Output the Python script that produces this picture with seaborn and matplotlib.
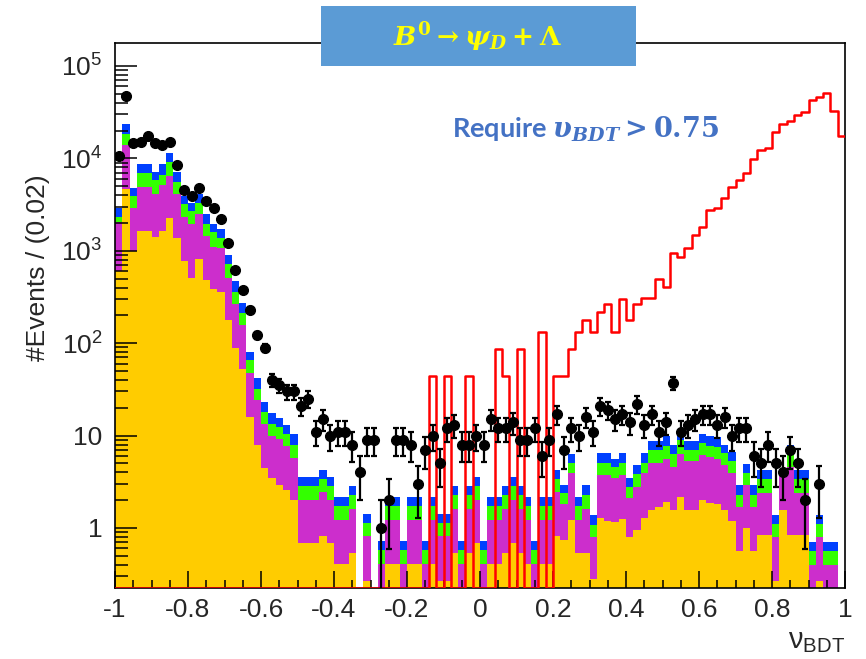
import numpy as np
import pandas as pd
import matplotlib
matplotlib.use("Agg")
import matplotlib.pyplot as plt
from matplotlib.patches import Rectangle
from matplotlib.ticker import MultipleLocator, FuncFormatter, NullFormatter, FixedLocator
import seaborn as sns

# 100 bins of 0.02 in nu_BDT
edges = np.linspace(-1.0, 1.0, 101)

# background components (events per bin), bottom of stack first
yellow = [600, 4700, 1000, 1650, 1650, 1420, 1650, 2240, 1380, 780,
          510, 820, 485, 390, 357, 178, 88, 52, 16, 8,
          4.5, 3.5, 2.9, 2.6, 2.0, .68, .68, .68, .81, .68,
          .41, .41, .54, 0, .27, 0, .14, .41, .41, .14,
          .41, .41, .14, .41, .27, .27, .54, .14, .54, .68,
          .14, .41, .41, .54, .68, .54, .41, .14, .41, .41,
          .81, .75, 1.22, .53, .53, .28, 1.27, 1.2, 1.15, 1.25,
          .8, .95, 1.27, 1.55, 1.7, 1.9, 1.55, 2.15, 1.55, 1.55,
          2.0, 1.85, 1.8, 1.55, 1.2, .57, 1.0, .57, .84, .84,
          .27, 1.55, .84, .84, .84, 0, .27, 0, 0, 0]
magenta = [1450, 9300, 1910, 3260, 3260, 2700, 3480, 4260, 2740, 1560,
           1440, 1690, 965, 720, 703, 332, 175, 104, 32, 16,
           9, 6.5, 6.2, 5.1, 3.7, 1.35, 1.35, 1.35, 1.62, 1.35,
           .81, .81, 1.08, 0, .54, 0, .27, .81, .81, .27,
           .81, .81, .27, .81, .54, .54, 1.08, .27, 1.08, 1.35,
           .27, .81, .81, 1.08, 1.35, 1.08, .81, .27, .81, .81,
           1.62, 1.05, 2.68, .7, 1.07, .52, 2.43, 2.5, 2.35, 2.45,
           1.3, 1.85, 2.63, 3.45, 3.3, 3.7, 3.05, 4.15, 3.75, 3.75,
           4.1, 3.95, 3.8, 3.25, 2.7, 1.13, 1.9, 1.13, 1.56, 1.56,
           .52, 2.65, 3.76, 1.56, 1.56, .40, .52, .40, .40, 0]
green = [290, 4500, 1040, 2060, 2060, 1730, 1540, 2620, 1480, 830,
         720, 800, 510, 470, 320, 210, 94, 55, 17, 8,
         4.5, 3.5, 3.3, 2.7, 2.2, .83, .83, .83, .99, .83,
         .5, .5, .66, 0, .33, 0, .17, .5, .5, .17,
         .5, .5, .17, .5, .33, .33, .66, .17, .66, .83,
         .17, .5, .5, .66, .83, .66, .5, .17, .5, .5,
         .99, .6, 1.1, .48, .7, .28, 1.4, 1.4, 1.1, 1.4,
         .7, 1.0, 1.1, 1.9, 1.9, 2.1, 1.7, 2.6, 1.7, 1.7,
         2.3, 2.0, 2.0, 1.7, 1.4, .6, 1.0, .6, 1.0, 1.0,
         .31, 0, 1.6, 1.0, 1.0, .17, .31, .17, .17, 0]
blue = [560, 5200, 880, 1700, 1700, 1250, 2000, 2440, 1500, 780,
        640, 810, 550, 380, 340, 170, 108, 59, 16, 10,
        5, 4, 3.0, 2.5, 2.4, .7, .7, .7, .84, .7,
        .42, .42, .56, 0, .28, 0, .14, .42, .42, .14,
        .42, .42, .14, .42, .28, .28, .56, .14, .56, .7,
        .14, .42, .42, .56, .7, .56, .42, .14, .42, .42,
        .84, .5, 1.3, .45, .6, .3, 1.4, 1.4, 1.0, 1.4,
        .65, 1.0, 1.4, 1.8, 1.8, 2.1, 1.6, 2.3, 1.7, 1.7,
        2.1, 2.0, 2.0, 1.4, 1.3, .6, 1.0, .6, .8, .8,
        .28, 0, 1.7, .8, .8, .14, .28, .14, .14, 0]

# observed data
data = [10700, 47000, 14700, 15100, 17400, 14700, 13800, 15200, 8500, 4560,
        3880, 4800, 3450, 2900, 2230, 1210, 620, 380, 230, 122,
        89, 40, 35, 30, 30, 21, 25, 11, 15, 10,
        11, 11, 8, 4, 9, 9, 1, 2, 9, 9,
        8, 3, 7, 10, 5, 12, 13, 8, 8, 10,
        8, 15, 12, 12, 14, 9, 9, 12, 6, 9,
        17, 7, 12, 10, 16, 11, 21, 19, 15, 17,
        14, 22, 13, 17, 11, 14, 37, 11, 13, 15,
        17, 17, 13, 16, 10, 12, 12, 6, 5, 8,
        5, 4, 7, 5, 2, 0, 3, 0, 0, 0]

# signal B0 -> psi_D + Lambda
signal = [0] * 43 + [44, 0, 44, 0, 0, 44, 0, 0, 0, 87,
                     44, 0, 87, 0, 0, 133, 0, 44, 44, 86,
                     133, 178, 133, 217, 262, 133, 300, 178, 262, 306,
                     306, 491, 402, 937, 863, 1062, 1480, 1790, 2760, 2880,
                     3690, 4940, 5830, 7000, 9770, 12300, 12800, 19500, 23600, 25600,
                     29500, 32000, 42900, 45800, 50600, 32800, 17500]

ymin, ymax = 0.224, 1.77e5

sns.set_style("ticks")
plt.rcParams['font.family'] = ['Liberation Sans', 'DejaVu Sans']
plt.rcParams['mathtext.fontset'] = 'custom'
plt.rcParams['mathtext.rm'] = 'DejaVu Serif:bold'
plt.rcParams['mathtext.bf'] = 'DejaVu Serif:bold'
plt.rcParams['mathtext.it'] = 'DejaVu Serif:italic:bold'

centers = (edges[:-1] + edges[1:]) / 2
names = ["bkg 1", "bkg 2", "bkg 3", "bkg 4"]
colors = {"bkg 1": "#FFCC00", "bkg 2": "#CC2ECC", "bkg 3": "#33FF00", "bkg 4": "#0040FF"}
parts = []
for name, vals in zip(names, [yellow, magenta, green, blue]):
    parts.append(pd.DataFrame({"nu": centers, "events": vals, "sample": name}))
bkg = pd.concat(parts, ignore_index=True)

fig = plt.figure(figsize=(8.66, 6.59), dpi=100)
ax = fig.add_axes([115 / 866, 1 - 588 / 659, 730 / 866, 545 / 659])
ax.set_yscale("log")

sns.histplot(data=bkg, x="nu", weights="events", hue="sample",
             hue_order=names[::-1], palette=colors, bins=100, binrange=(-1, 1),
             multiple="stack", element="step", fill=True, alpha=1,
             linewidth=0, legend=False, ax=ax)

sig = pd.DataFrame({"nu": centers, "events": np.maximum(signal, ymin)})
sns.histplot(data=sig, x="nu", weights="events", bins=100, binrange=(-1, 1),
             element="step", fill=False, color="#FF0000", linewidth=1.8,
             ax=ax, zorder=3)

d = np.array(data, dtype=float)
m = d > 0
ax.errorbar(centers[m], d[m], yerr=np.sqrt(d[m]), fmt="o", color="black",
            ms=7, elinewidth=1.6, capsize=2.5, capthick=1.6, zorder=4)

ax.set_xlim(-1, 1)
ax.set_ylim(ymin, ymax)
ax.set_xlabel("")
ax.set_ylabel("")
ax.set_axisbelow(False)  # ticks drawn over the filled stack, as in ROOT

ax.xaxis.set_major_locator(MultipleLocator(0.2))
ax.xaxis.set_minor_locator(MultipleLocator(0.05))
ax.xaxis.set_major_formatter(FuncFormatter(lambda v, p: "%g" % round(v, 2)))
ax.yaxis.set_major_locator(FixedLocator([1, 10, 1e2, 1e3, 1e4, 1e5]))
minor_y = [s * 10.0 ** e for e in range(-1, 6) for s in range(2, 10)]
ax.yaxis.set_minor_locator(FixedLocator(minor_y))
ax.yaxis.set_minor_formatter(NullFormatter())


def ylab(v, p):
    e = int(round(np.log10(v)))
    if e == 0:
        return "1"
    if e == 1:
        return "10"
    return r"$\mathregular{10^{%d}}$" % e


ax.yaxis.set_major_formatter(FuncFormatter(ylab))
ax.tick_params(axis="both", which="both", direction="in", top=False, right=False,
               width=1.1, labelsize=19, color="black")
ax.tick_params(axis="x", which="major", length=12.5, pad=7)
ax.tick_params(axis="x", which="minor", length=5.5)
ax.tick_params(axis="y", which="major", length=16, pad=9)
ax.tick_params(axis="y", which="minor", length=9)
for s in ax.spines.values():
    s.set_linewidth(1.2)
    s.set_color("black")

fig.text(38 / 866, 1 - 268 / 659, "#Events / (0.02)", rotation=90,
         ha="center", va="center", fontsize=19)
fig.text(845 / 866, 1 - 648 / 659, r"$\mathregular{\nu_{BDT}}$",
         ha="right", va="baseline", fontsize=21)

box = Rectangle((321 / 866, 1 - 66 / 659), 315 / 866, 60 / 659,
                transform=fig.transFigure, facecolor="#5B9BD5",
                edgecolor="none", zorder=10)
fig.add_artist(box)
fig.text(478 / 866, 1 - 37 / 659, r"$B^0 \rightarrow \psi_D + \Lambda$",
         ha="center", va="center", fontsize=19, color="#FFFF00", zorder=11)
fig.text(452 / 866, 1 - 137 / 659, r"Require $\upsilon_{BDT} > 0.75$",
         ha="left", va="baseline", fontsize=19.5, fontfamily="Lato",
         fontweight="bold", color="#4472C4")

fig.savefig("out.png", dpi=100)
